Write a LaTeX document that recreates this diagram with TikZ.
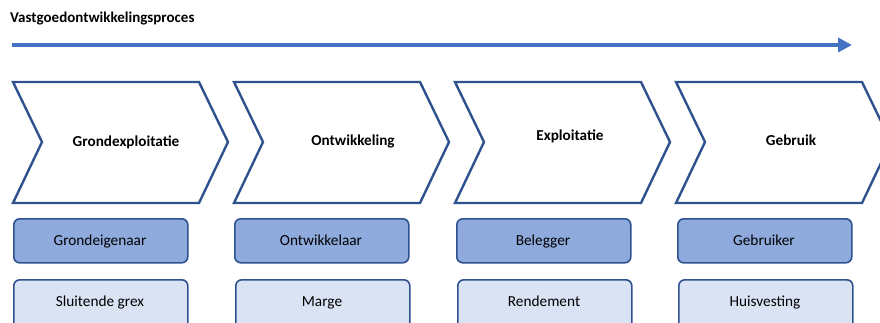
\documentclass[tikz,border=0pt]{standalone}
\usepackage{fontspec}
\setmainfont{Carlito}
\usetikzlibrary{arrows.meta}
\definecolor{arrowblue}{HTML}{4472C4}
\definecolor{edgeblue}{HTML}{2F528F}
\definecolor{darkfill}{HTML}{8FAADC}
\definecolor{lightfill}{HTML}{DAE3F3}
\tikzset{
  capsbox/.style={text height=9.8pt, text depth=0pt},
  chev/.style={draw=edgeblue, line width=2.4pt, fill=white, line join=miter},
  chevlabel/.style={capsbox, font=\bfseries\fontsize{15.2}{17}\selectfont, text=black, inner sep=0pt},
  rolebox/.style={draw=edgeblue, line width=1.6pt, fill=darkfill, rounded corners=6pt,
    minimum width=174pt, minimum height=44pt, inner sep=0pt, anchor=north west},
  rolelabel/.style={capsbox, font=\fontsize{15.3}{17}\selectfont, inner sep=0pt},
  valbox/.style={draw=edgeblue, line width=1.6pt, fill=lightfill, rounded corners=6pt,
    minimum width=174pt, minimum height=50pt, inner sep=0pt, anchor=north west},
  vallabel/.style={capsbox, font=\fontsize{15.3}{17}\selectfont, inner sep=0pt},
}
\begin{document}
\begin{tikzpicture}[x=1pt,y=-1pt]
\useasboundingbox (0,0) rectangle (880,322);
\begin{scope}
\clip (0,0) rectangle (880,322);
\node[capsbox, font=\bfseries\fontsize{15}{17}\selectfont, anchor=west, inner sep=0pt] (title) at (10,17.5) {Vastgoedontwikkelingsproces};
\coordinate (as) at (12,45);
\coordinate (ae) at (852,45);
\draw[arrowblue, line width=4pt, -{Triangle[length=14pt,width=14pt]}] (as) -- (ae);
% chevrons
\foreach \x/\n in {13/c1,234/c2,455/c3,676/c4}{
  \draw[chev] (\x,82) -- ++(186,0) -- ++(29,60) -- ++(-29,61) -- ++(-186,0) -- ++(29,-61) -- cycle;
}
\node[chevlabel] (l1) at (126,142) {Grondexploitatie};
\node[chevlabel] (l2) at (353,141) {Ontwikkeling};
\node[chevlabel] (l3) at (570,136) {Exploitatie};
\node[chevlabel] (l4) at (791,141) {Gebruik};
% role boxes
\node[rolebox] (r1) at (13,218) {};
\node[rolebox] (r2) at (234,218) {};
\node[rolebox] (r3) at (456,218) {};
\node[rolebox] (r4) at (677,218) {};
\node[rolelabel] (p1) at (100,241) {Grondeigenaar};
\node[rolelabel] (p2) at (321,241) {Ontwikkelaar};
\node[rolelabel] (p3) at (543,241) {Belegger};
\node[rolelabel] (p4) at (764,241) {Gebruiker};
% value boxes
\node[valbox] (v1) at (13,279) {};
\node[valbox] (v2) at (235,279) {};
\node[valbox] (v3) at (457,279) {};
\node[valbox] (v4) at (678,279) {};
\node[vallabel] (t1) at (100,302) {Sluitende grex};
\node[vallabel] (t2) at (322,302) {Marge};
\node[vallabel] (t3) at (544,302) {Rendement};
\node[vallabel] (t4) at (765,302) {Huisvesting};
\end{scope}
\end{tikzpicture}
\end{document}
